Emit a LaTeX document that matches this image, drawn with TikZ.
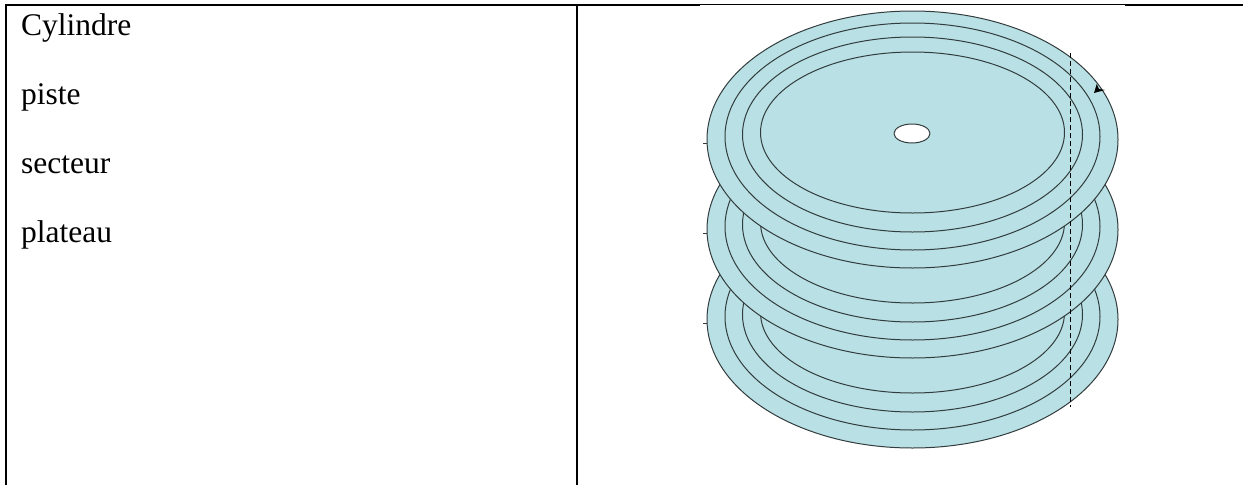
\documentclass[tikz,border=0pt]{standalone}
\usepackage{fontspec}
\setmainfont{Liberation Serif}
\usetikzlibrary{arrows.meta,calc}
\definecolor{platter}{RGB}{185,224,228}
\definecolor{rimgray}{RGB}{50,60,62}
\tikzset{
  rule/.style={line width=2pt,black},
  rim/.style={line width=1pt,rimgray},
  word/.style={anchor=base west,inner sep=0pt,font=\fontsize{31.5}{34}\selectfont},
}
\begin{document}
\begin{tikzpicture}[x=1pt,y=-1pt,line join=round]
  \useasboundingbox (0,0) rectangle (1243,485);
  % table frame
  \draw[rule] (5,5)--(700,5);
  \draw[black,line width=1pt] (700,4.5)--(1125,4.5);
  \draw[rule] (1125,5)--(1243,5);
  \draw[rule] (6,4)--(6,485);
  \draw[rule] (577,4)--(577,485);
  % left column
  \node[word] (cyl) at (21,35) {Cylindre};
  \node[word] (pis) at (21,104) {piste};
  \node[word] (sec) at (21,173) {secteur};
  \node[word] (pla) at (21,242) {plateau};
  % platters, lowest first
  \foreach \d in {180,90,0} {
    \begin{scope}[yshift=-\d pt]
      \draw[rim] (703,143)--(708,143);
      \fill[platter] (912.5,139.5) ellipse (205.5 and 128.5);
      \draw[rim] (912.5,139.5) ellipse (205.5 and 128.5);
      \draw[rim] (912.5,136.5) ellipse (187.5 and 113.5);
      \draw[rim] (912.5,134.5) ellipse (170 and 97.5);
      \draw[rim] (912.5,132.5) ellipse (152 and 80.5);
    \end{scope}
  }
  % hole and axis
  \filldraw[fill=white,draw=rimgray,line width=1pt] (912,133.5) ellipse (18 and 9.5);
  \draw[black,line width=.8pt,dash pattern=on 5pt off 3pt] (1070.5,53)--(1070.5,407);
  \fill[black] (1094,93)--(1096.7,84)--(1099,89)--(1105,90)--cycle;
\end{tikzpicture}
\end{document}
